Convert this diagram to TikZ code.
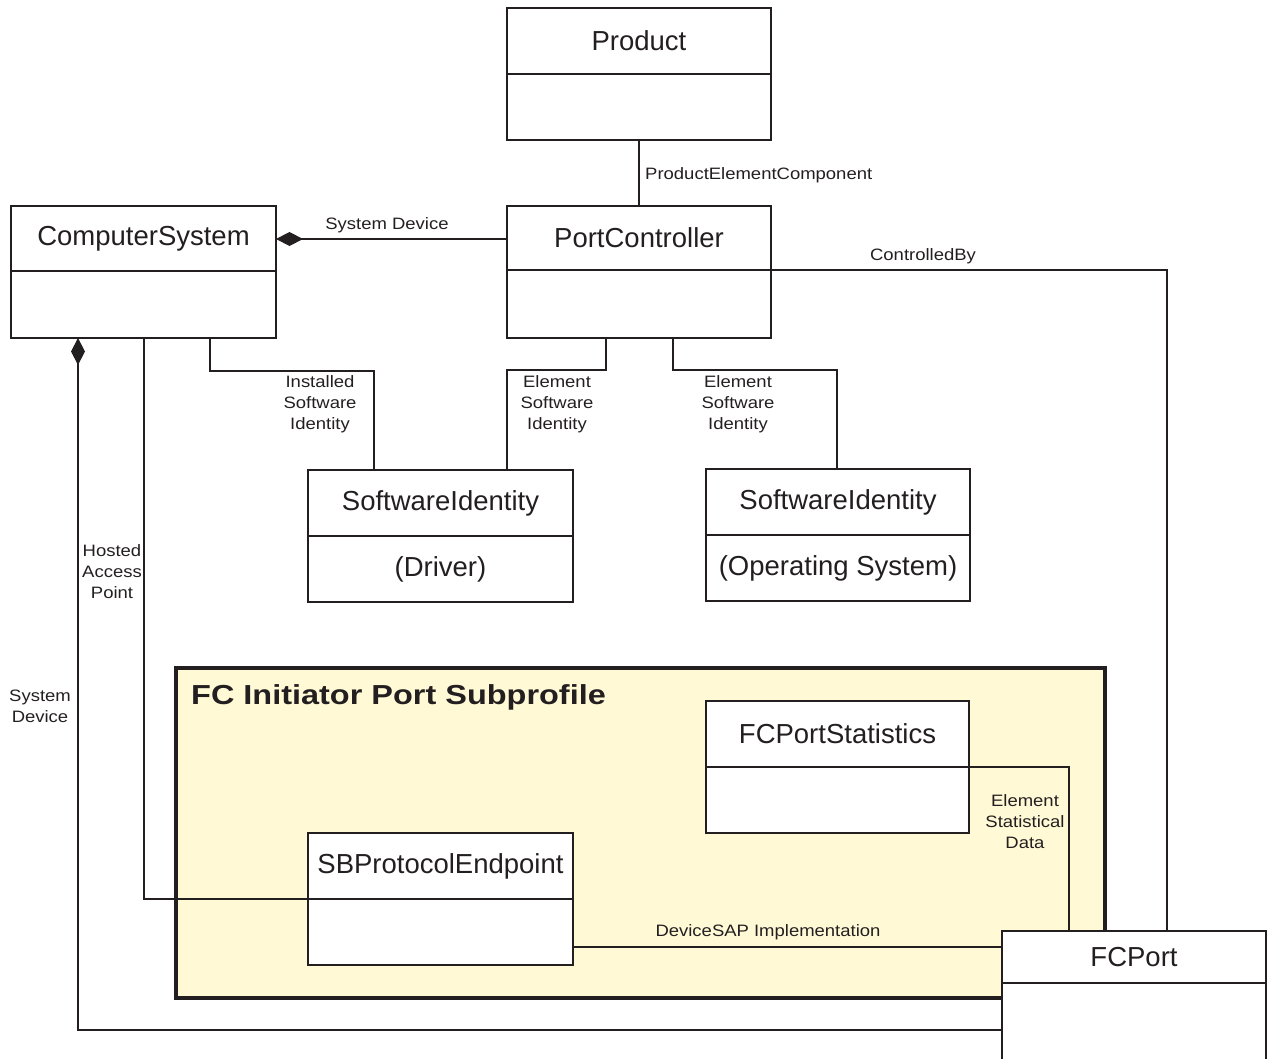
\documentclass[tikz,border=0pt]{standalone}
\usepackage{fontspec}
\setmainfont{Liberation Sans}
\newfontfamily\labelfont[FakeStretch=1.12]{Liberation Sans}
\newfontfamily\headfont[FakeStretch=1.18]{Liberation Sans}
\usetikzlibrary{arrows.meta,calc}

\definecolor{inkgray}{RGB}{35,31,32}
\definecolor{subyellow}{RGB}{255,249,214}

\tikzset{
  classbox/.style={draw=inkgray, line width=1.6pt, fill=white, minimum height=132pt, inner sep=0pt, outer sep=0pt},
  classline/.style={draw=inkgray, line width=1.4pt},
  classtitle/.style={text=inkgray, font=\fontsize{27.5}{33}\selectfont, inner sep=0pt},
  assoc/.style={draw=inkgray, line width=1.4pt},
  assoclabel/.style={text=inkgray, font=\labelfont\fontsize{16.5}{21}\selectfont, align=center, inner sep=0pt},
  comp/.style={{Diamond[length=27pt,width=14pt]}-},
  subprofile/.style={draw=inkgray, line width=3.6pt, fill=subyellow, minimum width=929pt, minimum height=330pt, inner sep=0pt, outer sep=0pt},
  subtitle/.style={text=inkgray, font=\headfont\bfseries\fontsize{27.5}{33}\selectfont, inner sep=0pt}
}

% name, x, y (top left), width, title height, title, body
\newcommand{\umlclass}[7]{%
  \node[classbox, minimum width=#4pt, anchor=north west] (#1) at (#2,#3) {};
  \coordinate (#1-sep) at ($(#1.north west)+(0,#5)$);
  \draw[classline] (#1-sep) -- (#1-sep -| #1.east);
  \node[classtitle] (#1-title) at ($(#1.north)+(0,{#5/2})$) {#6};
  \node[classtitle] (#1-body) at ($(#1.north)+(0,{(#5+132)/2})$) {#7};
}

\begin{document}
\begin{tikzpicture}[x=1pt,y=-1pt]
\useasboundingbox (0,0) rectangle (1267,1059);
\clip (0,0) rectangle (1267,1059);

% subprofile
\node[subprofile, anchor=north west] (sub) at (176,668) {};
\node[subtitle, anchor=base west] (sub-title) at (191,704) {FC Initiator Port Subprofile};

% classes
\umlclass{prod}{507}{8}{264}{66}{Product}{}
\umlclass{pc}{507}{206}{264}{64}{PortController}{}
\umlclass{cs}{11}{206}{265}{65}{ComputerSystem}{}
\umlclass{drv}{308}{470}{265}{66}{SoftwareIdentity}{(Driver)}
\umlclass{os}{706}{469}{264}{66}{SoftwareIdentity}{(Operating System)}
\umlclass{fps}{706}{701}{263}{66}{FCPortStatistics}{}
\umlclass{sbp}{308}{833}{265}{66}{SBProtocolEndpoint}{}
\umlclass{fcp}{1002}{931}{264}{52}{FCPort}{}

% associations
\draw[assoc] (prod.south) -- (pc.north);
\draw[assoc,comp] ($(cs.north east)+(0,33)$) -- ($(pc.north west)+(0,33)$);
\draw[assoc] (pc.east |- pc-sep) -| ([xshift=165pt]fcp.north west);
\draw[assoc] ([xshift=199pt]cs.south west) -- ++(0,33) -| ([xshift=66pt]drv.north west);
\draw[assoc] ([xshift=99pt]pc.south west) -- ++(0,32) -| ([xshift=199pt]drv.north west);
\draw[assoc] ([xshift=166pt]pc.south west) -- ++(0,32) -| ([xshift=131pt]os.north west);
\draw[assoc] ([xshift=133pt]cs.south west) |- (sbp-sep);
\draw[assoc,comp] ([xshift=67pt]cs.south west) |- ($(fcp.north west)+(0,99)$);
\draw[assoc] (fps.east |- fps-sep) -| ([xshift=67pt]fcp.north west);
\draw[assoc] ($(sbp.north east)+(0,114)$) coordinate (sap) -- (sap -| fcp.west);

% labels
\node[assoclabel, anchor=west] (l-pec) at (645,175) {ProductElementComponent};
\node[assoclabel] (l-sd1) at (387,225) {System Device};
\node[assoclabel] (l-cb) at (923,256) {ControlledBy};
\node[assoclabel] (l-isi) at (320,404) {Installed\\Software\\Identity};
\node[assoclabel] (l-esi1) at (557,404) {Element\\Software\\Identity};
\node[assoclabel] (l-esi2) at (738,404) {Element\\Software\\Identity};
\node[assoclabel] (l-hap) at (112,572) {Hosted\\Access\\Point};
\node[assoclabel] (l-sd2) at (40,706) {System\\Device};
\node[assoclabel] (l-esd) at (1025,822) {Element\\Statistical\\Data};
\node[assoclabel] (l-sap) at (768,932) {DeviceSAP Implementation};
\end{tikzpicture}
\end{document}
